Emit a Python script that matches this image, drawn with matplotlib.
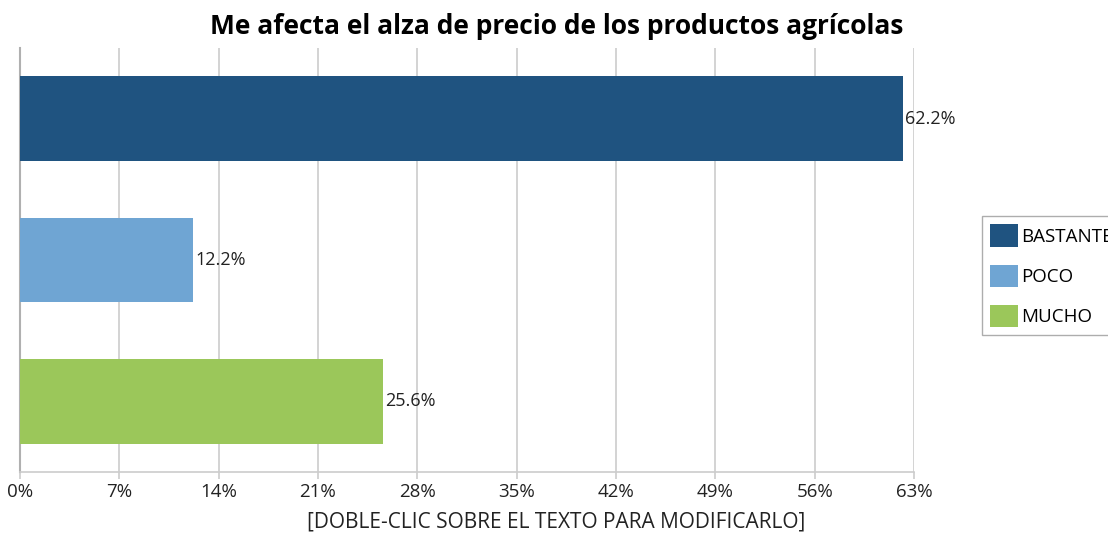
import matplotlib
matplotlib.use("Agg")
import matplotlib.pyplot as plt
from matplotlib.patches import Patch

categories = ["BASTANTE", "POCO", "MUCHO"]
values = [62.2, 12.2, 25.6]
colors = ["#1f5380", "#6fa5d3", "#9bc75a"]
ticks = [0, 7, 14, 21, 28, 35, 42, 49, 56, 63]

plt.rcParams["font.family"] = ["Open Sans", "DejaVu Sans"]

fig = plt.figure(figsize=(11.08, 5.35), dpi=100)
ax = fig.add_axes([0.018, 0.118, 0.807, 0.792])

pos = list(range(len(categories)))
ax.barh(pos, values, height=0.6, color=colors, zorder=3)
for p, v in zip(pos, values):
    ax.text(v + 0.15, p, f"{v:.1f}%", va="center", ha="left", fontsize=13, color="#222222", zorder=4)

ax.set_ylim(2.5, -0.5)
ax.set_xlim(0, 63)
ax.set_xticks(ticks)
ax.set_xticklabels([f"{t}%" for t in ticks], fontsize=13.5, color="#222222")
ax.set_yticks([])
ax.grid(axis="x", color="#cccccc", linewidth=1.2, zorder=0)
for s in ["top", "right"]:
    ax.spines[s].set_visible(False)
ax.spines["left"].set_color("#b0b0b0")
ax.spines["left"].set_linewidth(1.5)
ax.spines["bottom"].set_color("#cccccc")
ax.spines["bottom"].set_linewidth(1.2)
ax.tick_params(axis="x", length=5, color="#cccccc", width=1.2, pad=3)

fig.text(557 / 1108, 1 - 27 / 535, "Me afecta el alza de precio de los productos agrícolas",
         fontsize=19, fontweight="bold", ha="center", va="center")
fig.text(556 / 1108, 1 - 522 / 535, "[DOBLE-CLIC SOBRE EL TEXTO PARA MODIFICARLO]",
         fontsize=15, ha="center", va="center", color="#222222")

# legend sits partly outside the figure, as in the original
handles = [Patch(facecolor=c, edgecolor="none") for c in colors]
fig.legend(handles, categories, loc="upper left", bbox_to_anchor=(982 / 1108, 1 - 216 / 535),
           fontsize=13.5, frameon=True, fancybox=False, edgecolor="#999999",
           handlelength=1.45, handleheight=1.45, labelspacing=0.95, borderpad=0.45,
           handletextpad=0.2, borderaxespad=0)

fig.savefig("out.png", dpi=100)
